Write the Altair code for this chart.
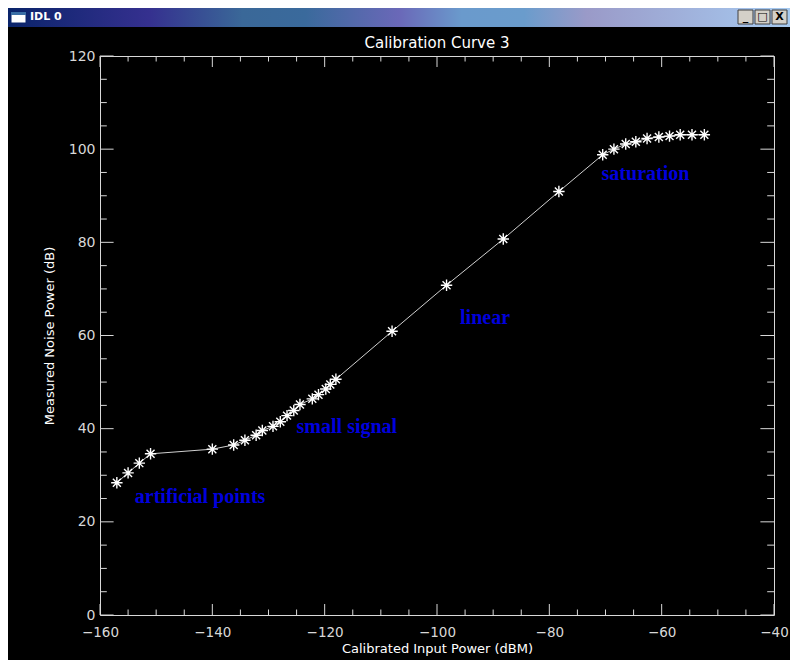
import altair as alt
import pandas as pd

# ---- data ----
x_vals = [-157, -155, -153, -151, -140, -136.2, -134.2, -132.2, -131.1, -129.2,
          -127.9, -126.7, -125.5, -124.4, -122.2, -121.1, -119.8, -119.0, -118.0,
          -108, -98.3, -88.2, -78.3, -70.5, -68.5, -66.4, -64.6, -62.6, -60.5,
          -58.6, -56.7, -54.6, -52.4]
y_vals = [28.4, 30.5, 32.6, 34.6, 35.6, 36.5, 37.5, 38.6, 39.6, 40.5,
          41.5, 42.8, 43.9, 45.2, 46.4, 47.3, 48.5, 49.5, 50.6,
          60.9, 70.8, 80.7, 90.9, 98.8, 100.0, 101.1, 101.6, 102.3, 102.6,
          102.8, 103.1, 103.1, 103.1]

ann_text = ["artificial points", "small signal", "linear", "saturation"]
ann_x = [-153.8, -125.0, -95.9, -70.7]
ann_y = [25.3, 40.4, 63.8, 94.7]

x_major = [-160, -140, -120, -100, -80, -60, -40]
x_minor = [-155, -150, -145, -135, -130, -125, -115, -110, -105, -95, -90, -85,
           -75, -70, -65, -55, -50, -45]
y_major = [0, 20, 40, 60, 80, 100, 120]
y_minor = [5, 10, 15, 25, 30, 35, 45, 50, 55, 65, 70, 75, 85, 90, 95, 105, 110, 115]

W, H = 674, 559
PL, PT, PR, PB = 92, 48, 16, 45
AX = "#d8d8d8"
FONT = "DejaVu Sans"

xs = alt.Scale(domain=[-160, -40], nice=False, zero=False)
ys = alt.Scale(domain=[0, 120], nice=False, zero=False)

df = pd.DataFrame({"x": x_vals, "y": y_vals})
ann = pd.DataFrame({"x": ann_x, "y": ann_y, "t": ann_text})
one = pd.DataFrame({"a": [0]})

xaxis = alt.Axis(values=x_major, domain=False, ticks=False, grid=False,
                 labelColor=AX, labelFont=FONT, labelFontSize=13.5, labelPadding=10,
                 labelOverlap=False, labelFlush=False,
                 title="Calibrated Input Power (dBM)", titleColor="white",
                 titleFont=FONT, titleFontSize=13, titleFontWeight="normal",
                 titlePadding=4)
yaxis = alt.Axis(values=y_major, domain=False, ticks=False, grid=False,
                 labelColor=AX, labelFont=FONT, labelFontSize=14, labelPadding=5,
                 labelOverlap=False, labelFlush=False,
                 title="Measured Noise Power (dB)", titleColor="white",
                 titleFont=FONT, titleFontSize=13, titleFontWeight="normal",
                 titlePadding=12)

line = alt.Chart(df).mark_line(color="#d0d0d0", strokeWidth=1).encode(
    x=alt.X("x:Q", scale=xs, axis=xaxis),
    y=alt.Y("y:Q", scale=ys, axis=yaxis),
)
star = "M-1,0L1,0M0,-1L0,1M-0.7,-0.7L0.7,0.7M-0.7,0.7L0.7,-0.7"
pts = alt.Chart(df).mark_point(shape=star, size=130, filled=False, color="white",
                               strokeWidth=1.4, opacity=1).encode(
    x=alt.X("x:Q", scale=xs), y=alt.Y("y:Q", scale=ys))

labels = alt.Chart(ann).mark_text(align="left", baseline="middle", color="#0000dd",
                                  font="Liberation Serif", fontWeight="bold",
                                  fontSize=20).encode(
    x=alt.X("x:Q", scale=xs), y=alt.Y("y:Q", scale=ys), text="t:N")

def xticks(vals, ln):
    d = pd.DataFrame({"t": vals})
    b = alt.Chart(d).mark_rule(color=AX, strokeWidth=1).encode(
        x=alt.X("t:Q", scale=xs), y=alt.value(H), y2=alt.value(H - ln))
    t = alt.Chart(d).mark_rule(color=AX, strokeWidth=1).encode(
        x=alt.X("t:Q", scale=xs), y=alt.value(0), y2=alt.value(ln))
    return [b, t]

def yticks(vals, ln):
    d = pd.DataFrame({"t": vals})
    l = alt.Chart(d).mark_rule(color=AX, strokeWidth=1).encode(
        y=alt.Y("t:Q", scale=ys), x=alt.value(0), x2=alt.value(ln))
    r = alt.Chart(d).mark_rule(color=AX, strokeWidth=1).encode(
        y=alt.Y("t:Q", scale=ys), x=alt.value(W), x2=alt.value(W - ln))
    return [l, r]

ticks = xticks(x_major, 11) + xticks(x_minor, 5.5) + yticks(y_major, 13.6) + yticks(y_minor, 6.8)

title = alt.Chart(one).mark_text(text="Calibration Curve 3", color="white", font=FONT,
                                 fontSize=15, align="center", baseline="middle").encode(
    x=alt.value(W / 2), y=alt.value(-13))

# ---- window chrome (decoration) ----
grad = alt.Gradient(gradient="linear", x1=0, x2=1, y1=0, y2=0, stops=[
    alt.GradientStop(color="#0a246a", offset=0.0),
    alt.GradientStop(color="#35308f", offset=0.18),
    alt.GradientStop(color="#3a6898", offset=0.30),
    alt.GradientStop(color="#3a6a9c", offset=0.38),
    alt.GradientStop(color="#6a68b8", offset=0.50),
    alt.GradientStop(color="#6a9acc", offset=0.58),
    alt.GradientStop(color="#6a9ccc", offset=0.66),
    alt.GradientStop(color="#9a9ac8", offset=0.74),
    alt.GradientStop(color="#a6caf0", offset=1.0)])
RIGHT = W + PR
bar = alt.Chart(one).mark_rect(fill=grad).encode(
    x=alt.value(-PL), x2=alt.value(RIGHT), y=alt.value(-48), y2=alt.value(-29))
icon = alt.Chart(one).mark_rect(fill="white", stroke="#0a246a", strokeWidth=1).encode(
    x=alt.value(-89), x2=alt.value(-74), y=alt.value(-44), y2=alt.value(-33))
icon_top = alt.Chart(one).mark_rect(fill="#3a6ea5").encode(
    x=alt.value(-89), x2=alt.value(-74), y=alt.value(-44), y2=alt.value(-41))
idl = alt.Chart(one).mark_text(text="IDL 0", color="white", font="DejaVu Sans",
                               fontWeight="bold", fontSize=11, align="left",
                               baseline="middle").encode(
    x=alt.value(-70), y=alt.value(-39))
btns = []
for x0, glyph in [(RIGHT - 52, "_"), (RIGHT - 35, "□"), (RIGHT - 18, "X")]:
    btns.append(alt.Chart(one).mark_rect(fill="#d4d0c8", stroke="#404040", strokeWidth=1).encode(
        x=alt.value(x0), x2=alt.value(x0 + 15), y=alt.value(-46), y2=alt.value(-32)))
    btns.append(alt.Chart(one).mark_text(text=glyph, color="black", font="DejaVu Sans",
                                         fontWeight="bold", fontSize=11, align="center",
                                         baseline="middle").encode(
        x=alt.value(x0 + 7.5), y=alt.value(-39)))

chart = alt.layer(line, pts, labels, *ticks, title, bar, icon, icon_top, idl, *btns).properties(
    width=W, height=H, background="black", autosize="none",
    padding={"left": PL, "top": PT, "right": PR, "bottom": PB},
).configure_view(stroke=AX, strokeWidth=1)

chart.save("out.html", embed_options={"renderer": "svg", "actions": False})
